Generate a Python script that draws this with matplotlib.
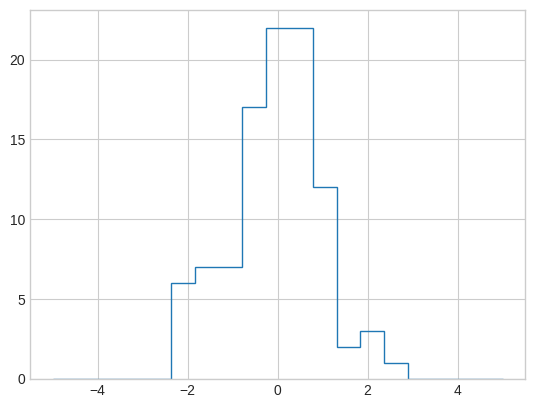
import numpy as np
import matplotlib
matplotlib.use("Agg")
import matplotlib.pyplot as plt

plt.style.use('seaborn-v0_8-whitegrid')
plt.rcParams['font.family'] = ['Liberation Sans', 'DejaVu Sans']

# bin edges and counts
edges = np.linspace(-5, 5, 20)
counts = [0, 0, 0, 0, 0, 6, 7, 7, 17, 22, 22, 12, 2, 3, 1, 0, 0, 0, 0]

fig = plt.figure(figsize=(5.36, 4.08), dpi=100)
ax = fig.add_axes([30 / 536, 1 - 379 / 408, 495 / 536, 369 / 408])

ax.hist(edges[:-1], bins=edges, weights=counts, histtype='step', color='#1f77b4', linewidth=1.0)

ax.set_xticks([-4, -2, 0, 2, 4])
ax.set_yticks([0, 5, 10, 15, 20])
ax.tick_params(labelsize=10)
for s in ax.spines.values():
    s.set_color('#cccccc')

fig.savefig('out.png', dpi=100)
